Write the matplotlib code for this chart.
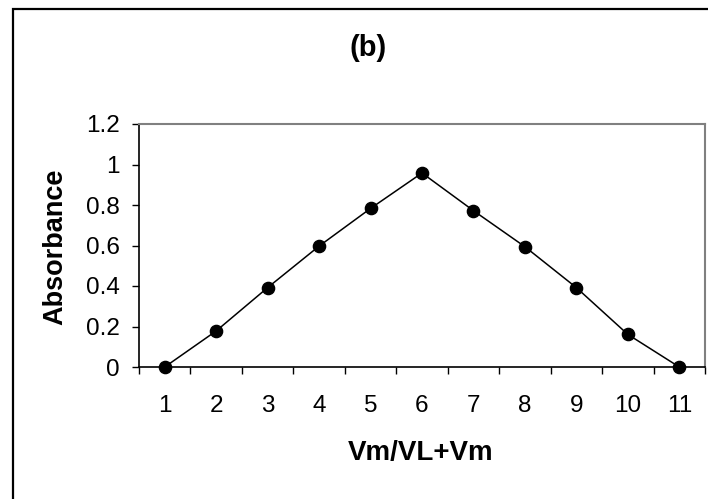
import matplotlib.pyplot as plt
import matplotlib.patches as patches
import numpy as np

# ratio categories (Vm/VL+Vm) and absorbance readings
categories = [1, 2, 3, 4, 5, 6, 7, 8, 9, 10, 11]
absorbance = [0.0, 0.178, 0.392, 0.597, 0.783, 0.958, 0.772, 0.594, 0.392, 0.161, 0.0]
y_ticks = [0, 0.2, 0.4, 0.6, 0.8, 1.0, 1.2]
y_tick_labels = ['0', '0.2', '0.4', '0.6', '0.8', '1', '1.2']

plt.rcParams['font.family'] = ['Liberation Sans', 'DejaVu Sans']

W, H = 708, 499
fig = plt.figure(figsize=(W / 100, H / 100), dpi=100)
ax = fig.add_axes([139 / W, 1 - 367 / H, (705 - 139) / W, (367 - 124) / H])

x = np.arange(len(categories)) + 1
ax.plot(x, absorbance, color='black', lw=1.1, marker='o', markersize=8.8,
        markerfacecolor='black', markeredgecolor='black', clip_on=False, zorder=3)

ax.set_xlim(0.5, len(categories) + 0.5)
ax.set_ylim(0, 1.2)
ax.set_yticks(y_ticks)
ax.set_yticklabels(y_tick_labels)
ax.set_xticks(x)
ax.set_xticklabels([str(c) for c in categories])
ax.set_xticks(np.arange(len(categories) + 1) + 0.5, minor=True)

ax.tick_params(axis='y', direction='out', length=5, width=1, pad=9, labelsize=17.5, colors='black')
ax.tick_params(axis='x', which='major', length=0, pad=20, labelsize=17.5)
ax.tick_params(axis='x', which='minor', direction='out', length=5, width=1)

for side in ['left', 'bottom']:
    ax.spines[side].set_color('black')
    ax.spines[side].set_linewidth(1.2)
for side in ['top', 'right']:
    ax.spines[side].set_color('#808080')
    ax.spines[side].set_linewidth(1.5)

fig.text(368 / W, 1 - 48 / H, '(b)', ha='center', va='center', fontsize=21, fontweight='bold')
fig.text(421 / W, 1 - 453 / H, 'Vm/VL+Vm', ha='center', va='center', fontsize=20, fontweight='bold')
fig.text(55 / W, 1 - 247 / H, 'Absorbance', ha='center', va='center', rotation=90,
         fontsize=19.5, fontweight='bold')

# outer chart border, cut off at right and bottom like the reference
border = patches.Rectangle((12.5 / W, -0.1), 1.2, (H - 9.5) / H + 0.1, transform=fig.transFigure,
                           fill=False, edgecolor='black', linewidth=1.6)
fig.patches.append(border)

fig.savefig('out.png', dpi=100)
